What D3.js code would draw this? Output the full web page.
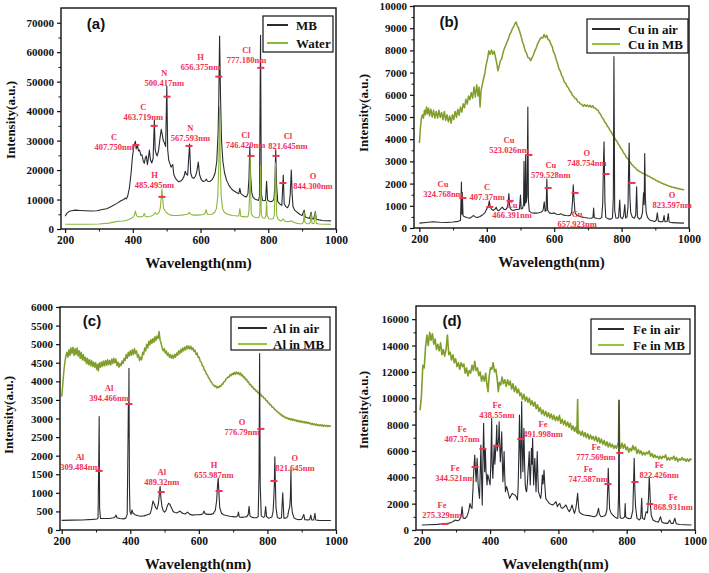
<!DOCTYPE html>
<html><head><meta charset="utf-8">
<script src="https://cdn.jsdelivr.net/npm/d3@7"></script>
<style>body{margin:0;background:#fff}svg{display:block}</style>
</head><body>
<svg id="chart" width="709" height="573"></svg>
<script>
// ---------------- DATA ----------------
const xTickValues = [200, 400, 600, 800, 1000];
const xMinorValues = [300, 500, 700, 900];

const yTicksA = [0, 10000, 20000, 30000, 40000, 50000, 60000, 70000];
const yMinorA = [5000, 15000, 25000, 35000, 45000, 55000, 65000];
const yTicksB = [0, 1000, 2000, 3000, 4000, 5000, 6000, 7000, 8000, 9000, 10000];
const yMinorB = [500, 1500, 2500, 3500, 4500, 5500, 6500, 7500, 8500, 9500];
const yTicksC = [0, 500, 1000, 1500, 2000, 2500, 3000, 3500, 4000, 4500, 5000, 5500, 6000];
const yMinorC = [];
const yTicksD = [0, 2000, 4000, 6000, 8000, 10000, 12000, 14000, 16000];
const yMinorD = [1000, 3000, 5000, 7000, 9000, 11000, 13000, 15000];

const seriesNamesA = ["MB", "Water"];
const seriesNamesB = ["Cu in air", "Cu in MB"];
const seriesNamesC = ["Al in air", "Al in MB"];
const seriesNamesD = ["Fe in air", "Fe in MB"];
const panelLetters = ["(a)", "(b)", "(c)", "(d)"];

// (a) MB
const mbA = [[200,4300],[206,5400],[212,6000],[220,6200],[230,6400],[244,6300],[260,6200],[280,6100],[294,6200],[310,6600],[323,6900],[338,7700],[353,8700],[365,9600],[373,10000],[378,10500],[381,10200],[385,11200],[390,14000],[395,19000],[399,24500],[403,28000],[407.7,29800],[410,27200],[413,28600],[417,26500],[420,26800],[424,25000],[427,25200],[431,23000],[434,22300],[437,24200],[440,24800],[443,21800],[446,24000],[449,26800],[452,23500],[456,22400],[460,24000],[463.7,37000],[466,27000],[469,25500],[472,24800],[476,26500],[480,30500],[484,33800],[487,32000],[490,30000],[494,29000],[497,28000],[500.4,48400],[503,27000],[506,23400],[510,22000],[513,21000],[518,21900],[521,18500],[526,17200],[531,16500],[536,16000],[541,16300],[546,16700],[551,17800],[555,19600],[558,18600],[562,18300],[567.6,28800],[571,19000],[575,17500],[580,17200],[585,17900],[589,19500],[593.5,22700],[597,18500],[602,16800],[608,16100],[613,16300],[617,16900],[621,16200],[627,16100],[633,16600],[638,17500],[643,19000],[648,23000],[652,33000],[654,45000],[656.3,65500],[659,45000],[662,30000],[666,23000],[671,19000],[677,16500],[684,14800],[692,13500],[700,12800],[709,12200],[713,12000],[716,13800],[719,12000],[725,11500],[731,11000],[736,10900],[740,12000],[743,17000],[745.5,28000],[748,18000],[751,12500],[755,10800],[760,10200],[766,9900],[771,9700],[774,11000],[777.2,65700],[779.5,12000],[783,9700],[788,9600],[792,9800],[795,16200],[798,9800],[803,9400],[809,9300],[813,9500],[817,10200],[819.5,15000],[822,26900],[824.5,15000],[828,9300],[834,8500],[840,8000],[844.3,18300],[847,8600],[852,7600],[857,7200],[862,8500],[865,12000],[868,20000],[870.5,12000],[873,7600],[878,6400],[885,5700],[893,5000],[900,4600],[906,6400],[909,4100],[916,3800],[922,3600],[926.5,5700],[929,3500],[934,3400],[939,5900],[942,3300],[950,3100],[960,2900],[970,2800],[985,2750]];
// (a) Water
const waterA = [[200,1600],[230,1600],[260,1600],[300,1700],[330,2000],[350,2500],[370,2700],[380,2900],[390,3300],[400,3900],[404,4500],[407.7,6100],[411,4500],[416,4200],[421,4100],[426,4200],[430,4300],[434,5300],[437,4300],[442,4100],[448,4300],[455,4400],[461,4800],[466,5600],[470,5000],[474,5200],[478,5700],[481,7000],[484,10500],[486,13600],[488,10500],[491,7000],[495,6200],[500,5500],[506,5000],[512,4700],[520,4600],[530,4600],[545,4700],[556,4900],[562,5000],[567,5600],[572,4900],[580,4700],[590,4700],[600,4800],[608,4900],[613,5200],[616.5,6600],[620,5000],[627,4900],[635,5100],[642,5700],[647,7000],[651,11000],[654,22000],[656.3,41500],[658.5,22000],[661,11000],[665,7000],[670,5700],[678,5100],[687,4800],[695,4600],[703,4500],[710,4400],[713,4400],[716,6900],[719,4300],[726,4200],[734,4100],[740,4200],[743,6000],[745.5,15000],[746.4,24800],[747.5,15000],[750,5000],[757,4100],[765,3900],[772,3800],[775,5000],[777.2,21500],[779.5,5000],[783,3800],[790,3700],[793,4500],[795,9500],[797,4500],[802,3500],[810,3400],[815,3500],[818,5000],[820,14000],[821.6,22500],[823,14000],[825,4500],[830,3100],[838,2700],[844.3,3400],[850,2600],[860,2500],[868,2800],[875,2300],[882,2000],[892,1800],[900,1800],[904,2400],[906,5700],[908,2400],[914,1800],[920,1800],[924,2200],[926.5,5200],[929,2000],[935,1800],[939,5600],[942,1900],[950,1700],[970,1600],[985,1600]];

// (b) Cu in air
const cuAir = [[200,220],[220,250],[240,280],[260,260],[280,250],[300,270],[315,300],[322,340],[324.8,2070],[326,620],[327.4,1600],[329.5,560],[333,520],[340,470],[350,440],[355,500],[360,560],[366,500],[372,470],[380,520],[388,600],[394,680],[398,800],[402,920],[405,1000],[407.4,1220],[410,960],[414,840],[420,790],[425,860],[428,940],[431,810],[436,780],[441,860],[446,940],[451,840],[456,830],[460,910],[463,1080],[465.5,1550],[467.5,1060],[470,860],[475,810],[480,790],[486,830],[492,840],[497,860],[500,1480],[502,860],[506,880],[509,1060],[510.5,3000],[512,1000],[514,1150],[515.3,3300],[517,1150],[519.5,1450],[521.8,5450],[523.5,1250],[526,760],[532,690],[540,670],[548,670],[555,690],[562,720],[567,800],[570.5,1180],[573,760],[576,780],[578.2,2200],[580.5,800],[586,680],[593,650],[600,680],[607,620],[615,610],[620,640],[627,580],[635,560],[642,550],[648,570],[652,720],[654.5,1250],[656.5,1950],[659,1250],[662,680],[667,580],[673,540],[680,500],[690,470],[700,450],[710,440],[715,470],[717,900],[719,460],[728,430],[736,420],[741,480],[744,1100],[746.5,3100],[748,3880],[750.5,1200],[753,480],[760,410],[768,400],[773,450],[775.5,1400],[777.3,7720],[779.5,800],[783,450],[788,440],[791,480],[794.5,1260],[797,480],[802,420],[806,540],[809.5,1060],[812,450],[816,500],[819,950],[820.5,2450],[822.5,3830],[824.5,1450],[827,700],[832,480],[838,440],[842,600],[844.6,1860],[847,500],[853,400],[858,460],[862,700],[865,1580],[867,1050],[868.6,3350],[870.5,1350],[873,700],[877,480],[883,360],[890,330],[898,290],[903,360],[906,680],[909,310],[918,270],[923,300],[926,560],[928.5,280],[935,290],[938.6,650],[941,270],[950,240],[965,230],[985,220]];
// (b) Cu in MB
const cuMB = [[200,3830],[203,4500],[206,4950],[209,5100],[212,4950],[215,5300],[218,5100],[221,5450],[224,5150],[227,5400],[230,5050],[234,5350],[238,5000],[242,5300],[246,4950],[250,5250],[254,4950],[258,5300],[262,4980],[266,5200],[270,4880],[274,5250],[278,4850],[282,5100],[286,4780],[290,5050],[294,4720],[298,5100],[302,4880],[306,5250],[310,4980],[314,5350],[318,5080],[322,5450],[326,5220],[330,5600],[334,5420],[338,5800],[342,5580],[346,5950],[350,5780],[354,6100],[358,5850],[362,6350],[366,5900],[370,6450],[374,5950],[377,6350],[380,5450],[383,6200],[386,6400],[390,6700],[394,6950],[398,7350],[402,7600],[406,7980],[410,7820],[414,8020],[418,7830],[422,7960],[426,7680],[430,7380],[433,7080],[436,7250],[440,7520],[444,7620],[448,7880],[452,8080],[456,8220],[460,8380],[464,8520],[468,8720],[472,8820],[476,8980],[480,9080],[484,9220],[487,9280],[490,9120],[494,9020],[498,8830],[502,8620],[506,8380],[510,8220],[514,7980],[518,7870],[522,7680],[526,7660],[530,7540],[534,7660],[538,7780],[542,7960],[546,8080],[550,8270],[554,8380],[558,8520],[562,8580],[566,8560],[570,8720],[574,8580],[578,8680],[582,8480],[586,8460],[590,8280],[594,8170],[598,7930],[602,7820],[606,7580],[610,7420],[614,7180],[618,7070],[622,6880],[626,6770],[630,6580],[634,6520],[638,6380],[642,6320],[646,6180],[650,6120],[654,5980],[658,5920],[662,5830],[666,5820],[670,5680],[674,5670],[678,5580],[682,5570],[686,5480],[690,5560],[694,5480],[698,5540],[702,5460],[706,5530],[710,5440],[714,5510],[718,5400],[722,5410],[726,5330],[730,5310],[734,5180],[738,5110],[742,4980],[746,4910],[750,4780],[754,4710],[758,4580],[762,4510],[766,4380],[770,4310],[774,4180],[778,4110],[782,3980],[786,3910],[790,3780],[794,3710],[798,3580],[802,3510],[806,3380],[810,3310],[814,3180],[818,3130],[822,3030],[826,2960],[830,2860],[834,2810],[838,2730],[842,2700],[846,2610],[850,2590],[854,2530],[858,2510],[862,2460],[866,2450],[870,2410],[874,2390],[878,2340],[882,2330],[886,2280],[890,2260],[894,2210],[898,2200],[902,2140],[906,2130],[910,2070],[914,2070],[918,2020],[922,2010],[926,1970],[930,1960],[934,1920],[938,1910],[942,1880],[946,1870],[950,1830],[954,1840],[958,1800],[962,1810],[966,1770],[970,1780],[974,1750],[978,1750],[982,1720],[986,1730]];

// (c) Al in air
const alAir = [[200,260],[230,265],[260,270],[290,285],[303,295],[306,330],[308.2,2000],[309.3,3050],[310.5,600],[313,310],[325,310],[340,310],[352,330],[356,360],[358.5,400],[361,330],[370,310],[380,300],[387,320],[391,420],[393.5,2500],[394.4,3400],[395.2,2500],[396.1,4350],[397.5,1200],[399,500],[402,420],[405,540],[408,450],[413,420],[420,390],[430,370],[440,380],[450,410],[458,440],[462,560],[466,780],[470,700],[474,600],[478,560],[482,700],[485,1000],[487,1170],[489,900],[492,650],[496,520],[500,480],[504,520],[508,650],[512,720],[516,680],[520,600],[525,500],[530,470],[537,460],[545,510],[552,450],[560,430],[567,480],[574,420],[582,400],[590,410],[600,410],[608,420],[612,440],[615,510],[618,440],[625,420],[635,420],[642,440],[648,530],[652,800],[654.5,1200],[656.3,1390],[658,1100],[661,600],[666,450],[672,410],[680,390],[690,370],[700,360],[708,350],[713,380],[715.5,480],[718,350],[725,340],[733,350],[740,360],[744,420],[746.5,640],[749,380],[755,340],[762,330],[768,330],[773,360],[775.5,1500],[777.2,4750],[779,1200],[782,380],[788,340],[792,360],[794.8,630],[797.5,360],[803,320],[808,330],[813,350],[816.5,500],[818.5,850],[820,1200],[821.6,1970],[823,1300],[825,600],[829,340],[835,310],[841,330],[844.6,1000],[848,320],[854,320],[859,360],[862,520],[865,630],[867,900],[868.6,1610],[870,700],[873,450],[878,320],[885,290],[893,280],[900,290],[906,420],[909,280],[918,270],[923,280],[926.5,400],[929,270],[935,270],[938.6,450],[941,270],[950,260],[970,255],[985,255]];
// (c) Al in MB
const alMB = [[200,3590],[203,3900],[206,4250],[209,4500],[212,4680],[215,4780],[218,4650],[221,4850],[224,4700],[227,4900],[230,4750],[233,4920],[236,4700],[239,4880],[242,4720],[245,4900],[248,4680],[251,4820],[254,4620],[257,4780],[260,4580],[263,4720],[266,4550],[269,4650],[272,4480],[275,4620],[278,4450],[281,4580],[284,4420],[287,4560],[290,4400],[293,4520],[296,4380],[299,4500],[302,4320],[305,4460],[307,4280],[310,4500],[313,4380],[316,4520],[319,4400],[322,4550],[325,4420],[328,4560],[331,4430],[334,4580],[337,4450],[340,4560],[343,4440],[346,4600],[349,4480],[352,4620],[355,4500],[358,4600],[361,4420],[364,4520],[367,4380],[370,4480],[373,4420],[376,4550],[379,4480],[382,4620],[385,4560],[388,4720],[391,4620],[394,4780],[397,4680],[400,4820],[403,4700],[406,4850],[409,4720],[412,4880],[415,4750],[418,4820],[421,4650],[424,4720],[427,4560],[430,4650],[433,4580],[436,4780],[439,4720],[442,4900],[445,4820],[448,5000],[451,4900],[454,5080],[457,4980],[460,5120],[463,5020],[466,5150],[469,5050],[472,5200],[475,5100],[478,5220],[481,5150],[484,5340],[487,5100],[490,5020],[493,4900],[496,4820],[499,4880],[502,4760],[505,4820],[508,4700],[511,4760],[514,4650],[517,4720],[520,4620],[523,4700],[526,4620],[529,4720],[532,4650],[535,4760],[538,4700],[541,4820],[544,4740],[547,4860],[550,4780],[553,4900],[556,4820],[559,4920],[562,4850],[565,4960],[568,4880],[571,4950],[574,4870],[577,4940],[580,4850],[583,4900],[586,4800],[589,4840],[592,4720],[595,4760],[598,4640],[601,4650],[604,4540],[607,4520],[610,4420],[613,4400],[616,4300],[619,4280],[622,4200],[625,4170],[628,4100],[631,4070],[634,4000],[637,3980],[640,3920],[643,3900],[646,3860],[649,3880],[652,3820],[655,3860],[658,3830],[661,3880],[664,3860],[667,3930],[670,3920],[673,3990],[676,4000],[679,4060],[682,4080],[685,4120],[688,4110],[691,4180],[694,4150],[697,4210],[700,4180],[703,4240],[706,4190],[709,4250],[712,4200],[715,4240],[718,4180],[721,4230],[724,4150],[727,4180],[730,4100],[733,4120],[736,4040],[739,4060],[742,3980],[745,3990],[748,3910],[751,3920],[754,3850],[757,3860],[760,3790],[763,3800],[766,3740],[769,3750],[772,3690],[775,3700],[778,3640],[781,3650],[784,3590],[787,3600],[790,3540],[793,3540],[796,3480],[799,3480],[802,3420],[805,3420],[808,3360],[811,3360],[814,3300],[817,3300],[820,3250],[823,3240],[826,3200],[829,3190],[832,3150],[835,3150],[838,3100],[841,3110],[844,3060],[847,3070],[850,3020],[853,3040],[856,3000],[859,3020],[862,2980],[865,3000],[868,2960],[871,2990],[874,2950],[877,2980],[880,2940],[883,2960],[886,2920],[889,2950],[892,2910],[895,2940],[898,2900],[901,2930],[904,2890],[907,2920],[910,2880],[913,2910],[916,2870],[919,2900],[922,2860],[925,2880],[928,2840],[931,2870],[934,2830],[937,2860],[940,2820],[943,2850],[946,2810],[949,2840],[952,2800],[955,2830],[958,2800],[961,2830],[964,2790],[967,2820],[970,2790],[973,2820],[976,2780],[979,2810],[982,2790],[985,2810]];

// (d) Fe in air
const feAir = [[200,380],[220,400],[245,430],[265,480],[275,500],[285,560],[292,650],[298,760],[304,700],[310,760],[315,1000],[318,1770],[321,900],[327,880],[332,1010],[337,1390],[341,2000],[344.5,1700],[347,1640],[350,3200],[352,4430],[355,5690],[357,4600],[359,3670],[362,5440],[365,3420],[369,2400],[371,4300],[373,6450],[375,4000],[377,1900],[379,5200],[381,8100],[383,5500],[384,4430],[386,6200],[388,4500],[391,3420],[393,4200],[396,3920],[400,3420],[402,5000],[404.6,8480],[406,5000],[408,3920],[410,5200],[412,6450],[414,5000],[416,5950],[418,6800],[419.5,7970],[421,6000],[423,6450],[425,7000],[426.5,8220],[428,6500],[430,5190],[432,6200],[434,7460],[436,5000],[437.5,3670],[439,4500],[441,5950],[443,4000],[445,2910],[448,3300],[450,3160],[453,2800],[457,2400],[461,2600],[465,2780],[469,2700],[473,2660],[477,2500],[480,2280],[482,3200],[484,5500],[486,8730],[488,6000],[490,3920],[491,6500],[492.5,9740],[494,6500],[496,4430],[497.5,6000],[499,7720],[501,5000],[503,3420],[505,3000],[507,2910],[509,3500],[511,4430],[513,5200],[514.5,5950],[516,4500],[517.5,3420],[519,4500],[521,6200],[523,5000],[524.5,6960],[526,5000],[527.5,3420],[529,4300],[531,5440],[533,4000],[534.5,2910],[536,4200],[538,5950],[540,4000],[541.5,2910],[544,2700],[548,2400],[550,2800],[553,4170],[555,3500],[558,4550],[560,3500],[563,2400],[568,2200],[573,2020],[578,1950],[583,1900],[588,2000],[593,2150],[597,1770],[601,1950],[604,2020],[608,1700],[612,1640],[617,1750],[622,1900],[627,1600],[632,1390],[636,1600],[640,1900],[644,1500],[647,1260],[651,1640],[653,2000],[656.3,2780],[659,1800],[661,1390],[666,1250],[671,1180],[676,1140],[683,1110],[691,1090],[698,1050],[705,1010],[712,1100],[715,1400],[717.5,1640],[720,1200],[725,1010],[732,1050],[738,1140],[742,1500],[744.5,3200],[746,4680],[748,3000],[750,1600],[754,1300],[759,1140],[765,1000],[770,900],[774,890],[776,2500],[777.5,9870],[779,2000],[781,950],[784,890],[790,900],[794,1000],[795.5,2000],[797,1000],[802,900],[808,860],[813,900],[818,1500],[820,3500],[822,5440],[824,3000],[826,1770],[830,900],[837,760],[841,900],[844,2400],[846,900],[852,800],[857,1390],[861,1300],[864,2500],[866,4050],[868,3000],[869.5,1900],[872,1100],[877,760],[885,640],[893,600],[899,1010],[903,600],[910,520],[920,500],[926,750],[930,500],[936,500],[941,890],[945,480],[955,420],[970,400],[990,380]];
// (d) Fe in MB
const feMB = [[195,9100],[199,10200],[203,12500],[207,12300],[211,13900],[215,14800],[219,14000],[223,15000],[227,14400],[231,14900],[235,14100],[239,14500],[243,13700],[247,14100],[251,13600],[255,14200],[259,13300],[263,13700],[267,13200],[271,13700],[275,14800],[279,13300],[283,13500],[287,12900],[291,13300],[295,12700],[299,13000],[303,12400],[307,12700],[311,12200],[315,12700],[319,12400],[323,12600],[327,11900],[331,12300],[335,11700],[339,12100],[343,11900],[347,12500],[351,12100],[355,12800],[359,12100],[363,12300],[367,11700],[371,12000],[375,11300],[379,11700],[383,11300],[387,11900],[391,11000],[394,10500],[397,11600],[401,12300],[405,12200],[409,12700],[413,12000],[417,12200],[421,11400],[424,10500],[427,11200],[431,11000],[435,11600],[439,11100],[443,11400],[447,10900],[451,11400],[455,11000],[459,11300],[463,10700],[467,11100],[471,10500],[475,10900],[479,10400],[483,10700],[487,10200],[491,10400],[495,9900],[499,10300],[503,9800],[507,10100],[511,9700],[515,10000],[519,9500],[523,9800],[527,9400],[531,9700],[535,9200],[539,9500],[543,9000],[547,9300],[551,8800],[555,9100],[559,8700],[563,9000],[567,8600],[571,8900],[575,8500],[579,8800],[583,8400],[587,8700],[591,8300],[595,8600],[599,8300],[603,8700],[607,8100],[611,8400],[615,8000],[619,8300],[623,7900],[627,8200],[631,7800],[635,8100],[639,7600],[643,7900],[647,7500],[651,7800],[654,7400],[656.3,9900],[658,7300],[662,7500],[666,7200],[670,7500],[674,7100],[678,7400],[682,7000],[686,7300],[690,6900],[694,7200],[698,6900],[702,7100],[706,6800],[710,7100],[714,6700],[718,7000],[722,6600],[726,6900],[730,6500],[734,6800],[738,6400],[742,6700],[746,6300],[750,6600],[754,6300],[758,6500],[762,6200],[766,6400],[770,6200],[774,6500],[776,6700],[777.4,9800],[779,6500],[782,6200],[786,6600],[790,6200],[794,6500],[798,6100],[802,6300],[806,5900],[810,6200],[814,6000],[818,6400],[822,6100],[826,6300],[830,5800],[834,6100],[838,5800],[842,6000],[846,5700],[850,5900],[854,5700],[858,5900],[862,5800],[866,6000],[870,5600],[874,5800],[878,5500],[882,5700],[886,5500],[890,5600],[894,5400],[898,5600],[902,5400],[906,5600],[910,5500],[914,5700],[918,5300],[922,5500],[926,5300],[930,5500],[934,5400],[938,5600],[942,5300],[946,5500],[950,5200],[954,5400],[958,5300],[962,5500],[966,5300],[970,5400],[974,5200],[978,5400],[982,5200],[986,5400],[990,5300]];

// annotations: [element, wavelength text, label x (nm), label y, marker x (nm), marker y]
const annotA = [["C","407.750nm",345,27900,409,28500],["C","463.719nm",431,38100,463,35000],["N","500.417nm",493,49700,501,44900],["H","656.375nm",600,55100,654,51700],["Cl","777.180nm",736,57500,778,54700],["N","567.593nm",570,31000,566,28200],["H","485.495nm",464,15000,486,10900],["Cl","746.420nm",733,28600,749,24800],["Cl","821.645nm",858,28200,823,24800],["O","844.300nm",932,14600,843,15600]];
const annotB = [["Cu","324.768nm",270,1530,329,1350],["C","407.37nm",401,1400,409,950],["Cu","466.391nm",475,590,469,1220],["Cu","523.026nm",466,3510,525,3290],["Cu","579.528nm",590,2390,582,1800],["Cu","657.923nm",668,180,662,1580],["O","748.754nm",697,2930,754,2430],["O","823.597nm",950,1040,831,2030]];
const annotC = [["Al","309.484nm",253,1690,309,1590],["Al","394.466nm",338,3550,396,3390],["Al","489.32nm",492,1290,490,1020],["H","655.987nm",644,1480,659,1050],["O","776.79nm",726,2640,781,2720],["O","821.645nm",880,1670,819,1320]];
const annotD = [["Fe","275.329nm",259,1140,268,460],["Fe","344.521nm",297,3950,356,4780],["Fe","407.37nm",318,6910,379,6150],["Fe","438.55nm",420,8730,420,6380],["Fe","491.998nm",555,7290,490,6910],["Fe","747.587nm",687,3870,745,3490],["Fe","777.569nm",710,5540,780,5850],["Fe","822.426nm",895,4180,824,3640],["Fe","868.931nm",936,1750,868,1970]];

// ---------------- LAYOUT ----------------
const BLACK = "#272b30", GREEN_A = "#8cb83a", GREEN = "#7f9e2b", GREEN_LEG = "#96c43a", RED = "#f2304f";
const SERIF = "'Liberation Serif','Times New Roman',serif";
const SANS = "'Liberation Sans',Arial,sans-serif";

const panels = [
  {letter: panelLetters[0], box:{l:61,r:336,t:8,b:229}, xDom:[188,1000], yDom:[0,75000], yT:yTicksA, yM:yMinorA,
   series:[{d:mbA,c:BLACK,w:1.1,name:seriesNamesA[0],lc:BLACK},{d:waterA,c:GREEN_A,w:1.1,name:seriesNamesA[1],lc:GREEN_A}],
   annot:annotA, letterPos:[96,23], leg:{x:263,y:16,w:70,h:36,lx0:267,lx1:288,tx:296,rows:[25,43]},
   ytitle:[10,120]},
  {letter: panelLetters[1], box:{l:414,r:689,t:6,b:228}, xDom:[184,1000], yDom:[0,10000], yT:yTicksB, yM:yMinorB,
   series:[{d:cuMB,c:GREEN,w:1.5,name:seriesNamesB[1],lc:GREEN_LEG},{d:cuAir,c:BLACK,w:1.1,name:seriesNamesB[0],lc:BLACK}],
   legOrder:true, annot:annotB, letterPos:[449,21], leg:{x:587,y:19,w:101,h:34,lx0:592,lx1:620,tx:628,rows:[29,44]},
   ytitle:[363,113]},
  {letter: panelLetters[2], box:{l:60,r:336,t:307,b:530}, xDom:[195,1000], yDom:[0,6000], yT:yTicksC, yM:yMinorC,
   series:[{d:alMB,c:GREEN,w:1.5,name:seriesNamesC[1],lc:GREEN_LEG},{d:alAir,c:BLACK,w:1.1,name:seriesNamesC[0],lc:BLACK}],
   legOrder:true, annot:annotC, letterPos:[92,320], leg:{x:231,y:317,w:99,h:33,lx0:238,lx1:267,tx:273,rows:[328,344]},
   ytitle:[8,415]},
  {letter: panelLetters[3], box:{l:416,r:695,t:306,b:530}, xDom:[183,1000], yDom:[0,17000], yT:yTicksD, yM:yMinorD,
   series:[{d:feMB,c:GREEN,w:1.6,name:seriesNamesD[1],lc:GREEN_LEG},{d:feAir,c:BLACK,w:1.1,name:seriesNamesD[0],lc:BLACK}],
   legOrder:true, annot:annotD, letterPos:[452,320], leg:{x:591,y:319,w:99,h:35,lx0:598,lx1:624,tx:633,rows:[329,345]},
   ytitle:[363,410]}
];

const svg = d3.select("#chart");
svg.append("rect").attr("width",709).attr("height",573).attr("fill","#fff");

panels.forEach(p => {
  const g = svg.append("g");
  const x = d3.scaleLinear().domain(p.xDom).range([p.box.l, p.box.r]);
  const y = d3.scaleLinear().domain(p.yDom).range([p.box.b, p.box.t]);
  const line = d3.line().x(d => x(d[0])).y(d => y(d[1]));

  p.series.forEach(s => {
    g.append("path").attr("d", line(s.d)).attr("fill","none")
      .attr("stroke", s.c).attr("stroke-width", s.w).attr("stroke-linejoin","round");
  });

  g.append("rect").attr("x",p.box.l).attr("y",p.box.t).attr("width",p.box.r-p.box.l).attr("height",p.box.b-p.box.t)
    .attr("fill","none").attr("stroke","#111").attr("stroke-width",1.4);

  const xAxis = d3.axisBottom(x).tickValues(xTickValues).tickSize(4).tickPadding(3).tickFormat(d3.format("d"));
  const gx = g.append("g").attr("transform",`translate(0,${p.box.b})`).call(xAxis);
  gx.select(".domain").remove();
  gx.selectAll("line").attr("stroke","#111").attr("stroke-width",1.2);
  gx.selectAll("text").attr("font-family",SERIF).attr("font-weight","bold").attr("font-size",11.5).attr("fill","#111");
  const gxm = g.append("g").attr("transform",`translate(0,${p.box.b})`)
    .call(d3.axisBottom(x).tickValues(xMinorValues).tickSize(2.5).tickFormat(""));
  gxm.select(".domain").remove();
  gxm.selectAll("line").attr("stroke","#111").attr("stroke-width",1);

  const yAxis = d3.axisLeft(y).tickValues(p.yT).tickSize(4).tickPadding(3).tickFormat(d3.format("d"));
  const gy = g.append("g").attr("transform",`translate(${p.box.l},0)`).call(yAxis);
  gy.select(".domain").remove();
  gy.selectAll("line").attr("stroke","#111").attr("stroke-width",1.2);
  gy.selectAll("text").attr("font-family",SERIF).attr("font-weight","bold").attr("font-size",11).attr("fill","#111");
  if (p.yM.length) {
    const gym = g.append("g").attr("transform",`translate(${p.box.l},0)`)
      .call(d3.axisLeft(y).tickValues(p.yM).tickSize(2.5).tickFormat(""));
    gym.select(".domain").remove();
    gym.selectAll("line").attr("stroke","#111").attr("stroke-width",1);
  }

  g.append("text").attr("x",(p.box.l+p.box.r)/2).attr("y",p.box.b+34).attr("text-anchor","middle")
    .attr("dominant-baseline","central").attr("font-family",SERIF).attr("font-weight","bold").attr("font-size",15)
    .attr("fill","#111").text("Wavelength(nm)");
  g.append("text").attr("transform",`translate(${p.ytitle[0]},${p.ytitle[1]}) rotate(-90)`).attr("text-anchor","middle")
    .attr("dominant-baseline","central").attr("font-family",SERIF).attr("font-weight","bold").attr("font-size",13)
    .attr("fill","#111").text("Intensity(a.u.)");

  g.append("text").attr("x",p.letterPos[0]).attr("y",p.letterPos[1]).attr("text-anchor","middle")
    .attr("dominant-baseline","central").attr("font-family",SANS).attr("font-weight","bold").attr("font-size",15)
    .attr("fill","#111").text(p.letter);

  p.annot.forEach(a => {
    g.append("line").attr("x1",x(a[4])-3.5).attr("x2",x(a[4])+3.5).attr("y1",y(a[5])).attr("y2",y(a[5]))
      .attr("stroke",RED).attr("stroke-width",2);
    g.append("text").attr("x",x(a[2])).attr("y",y(a[3])-10).attr("text-anchor","middle").attr("dominant-baseline","central")
      .attr("font-family",SERIF).attr("font-weight","bold").attr("font-size",8.5).attr("fill",RED).text(a[0]);
    g.append("text").attr("x",x(a[2])).attr("y",y(a[3])).attr("text-anchor","middle").attr("dominant-baseline","central")
      .attr("font-family",SERIF).attr("font-weight","bold").attr("font-size",8.5).attr("fill",RED).text(a[1]);
  });

  const L = p.leg;
  g.append("rect").attr("x",L.x).attr("y",L.y).attr("width",L.w).attr("height",L.h)
    .attr("fill","#fff").attr("stroke","#111").attr("stroke-width",1.2);
  const rowsSeries = p.legOrder ? [p.series[1], p.series[0]] : p.series;
  rowsSeries.forEach((s, i) => {
    g.append("line").attr("x1",L.lx0).attr("x2",L.lx1).attr("y1",L.rows[i]).attr("y2",L.rows[i])
      .attr("stroke",s.lc).attr("stroke-width",2);
    g.append("text").attr("x",L.tx).attr("y",L.rows[i]).attr("dominant-baseline","central")
      .attr("font-family",SERIF).attr("font-weight","bold").attr("font-size",13).attr("fill","#111").text(s.name);
  });
});
</script>
</body></html>
